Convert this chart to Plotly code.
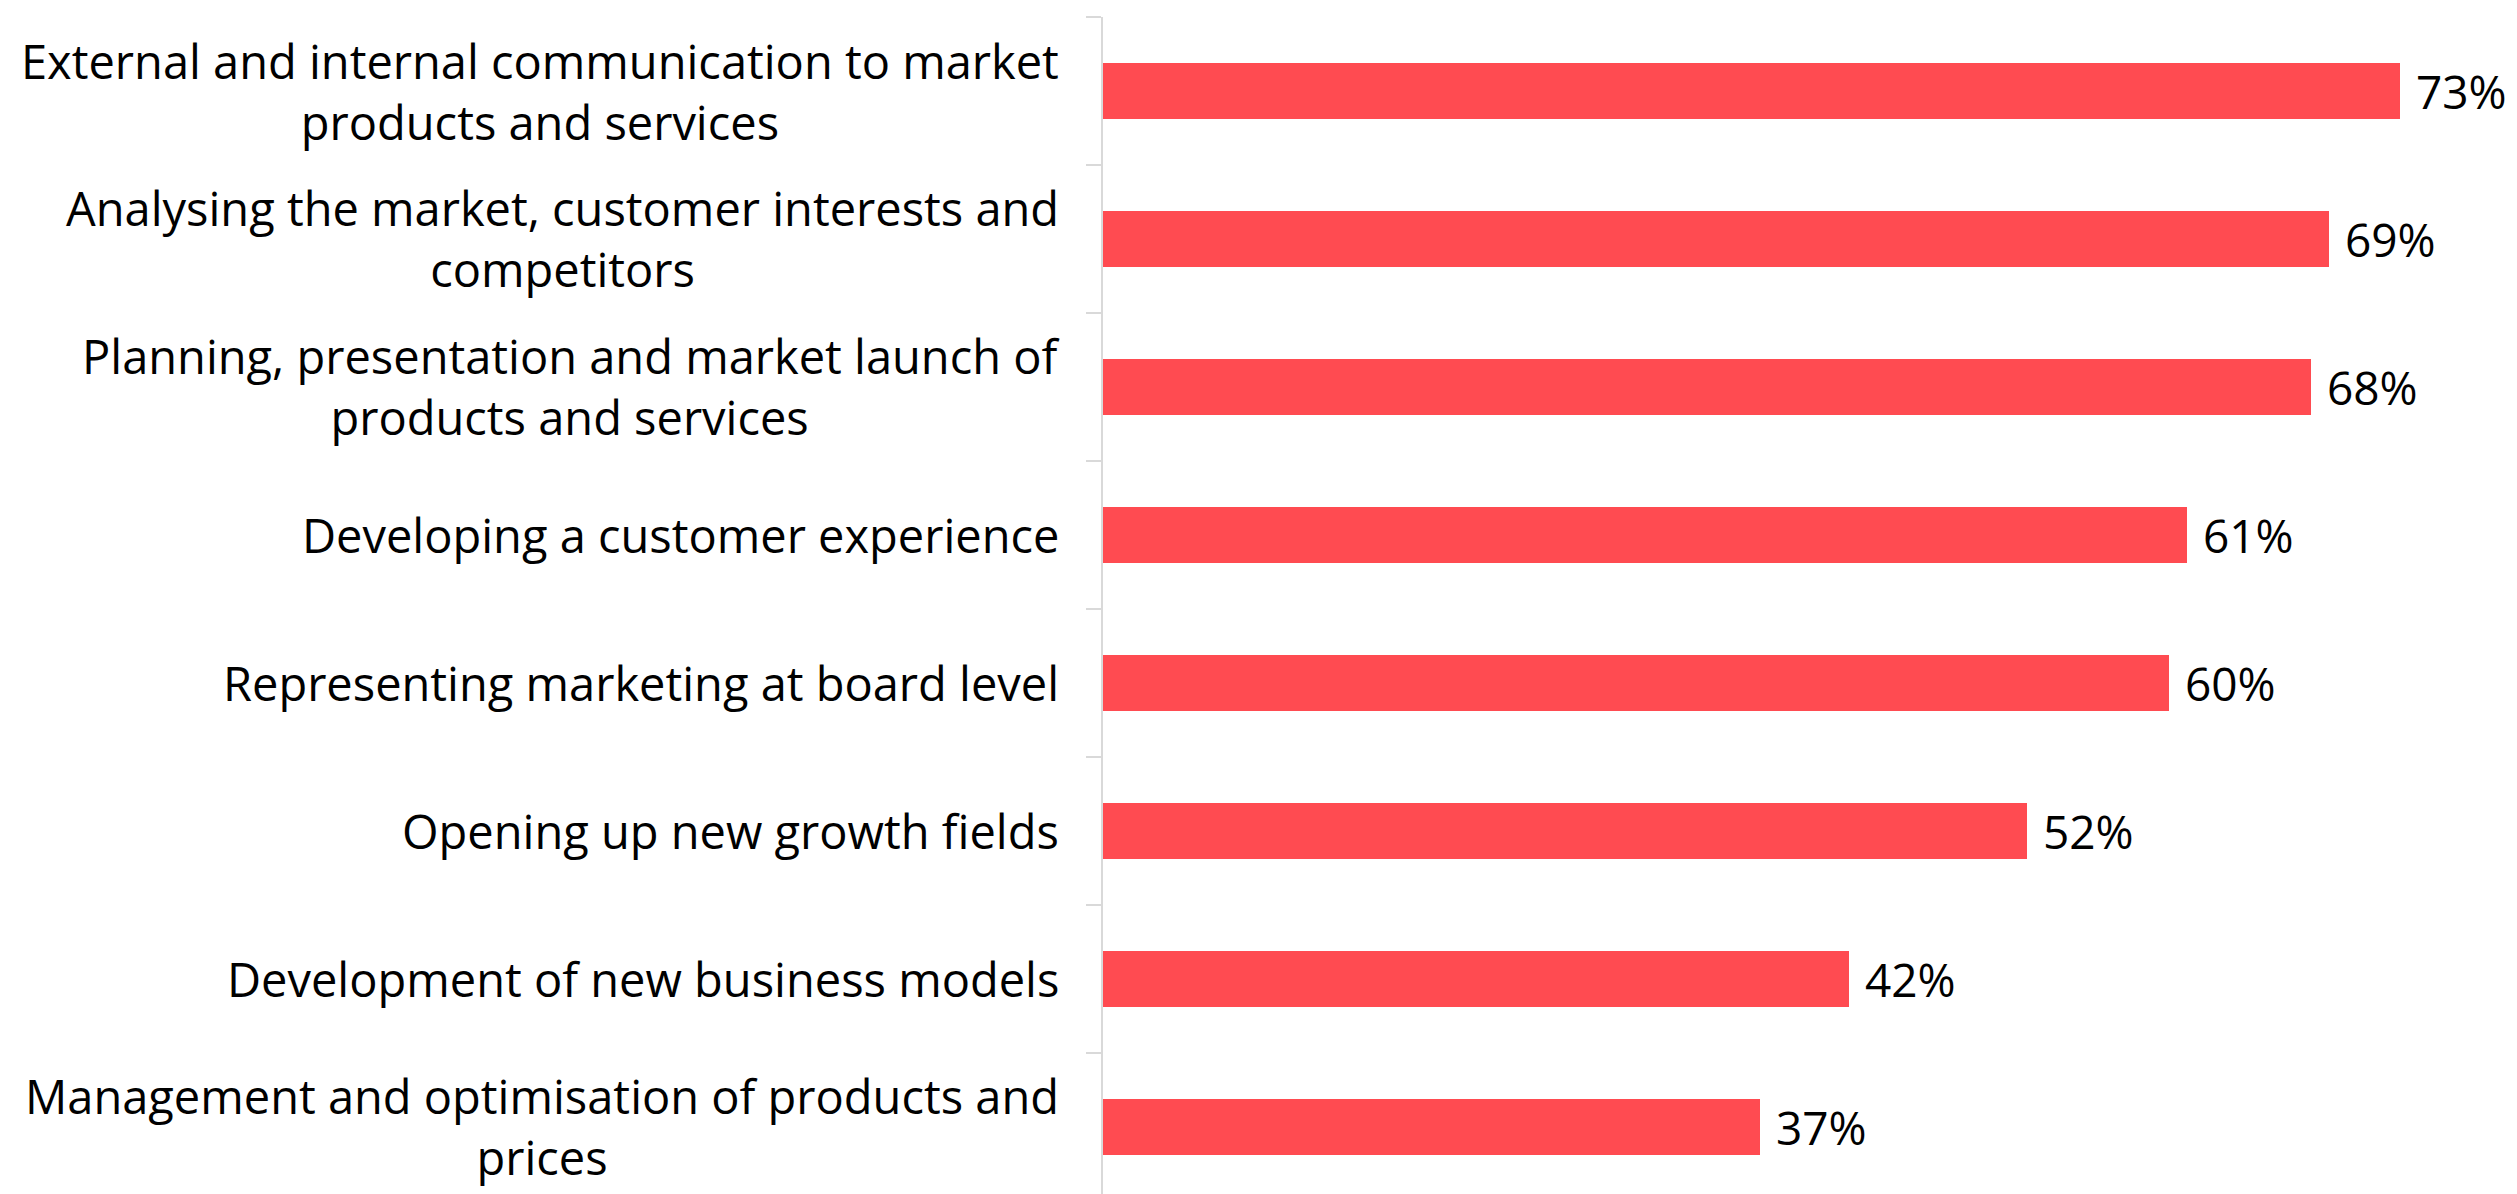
import plotly.graph_objects as go

# Survey responses: share of respondents per marketing responsibility
categories = [
    "External and internal communication to market<br>products and services",
    "Analysing the market, customer interests and<br>competitors",
    "Planning, presentation and market launch of<br>products and services",
    "Developing a customer experience",
    "Representing marketing at board level",
    "Opening up new growth fields",
    "Development of new business models",
    "Management and optimisation of products and<br>prices",
]
values = [73, 69, 68, 61, 60, 52, 42, 37]

BAR_COLOR = "#FF4B51"
AXIS_COLOR = "#D9D9D9"
FONT = "Open Sans"

fig = go.Figure()
fig.add_trace(go.Bar(
    x=values,
    y=list(range(len(categories))),
    orientation="h",
    marker=dict(color=BAR_COLOR, line=dict(width=0)),
    width=0.38,
    hoverinfo="skip",
))

annotations = []
# Category labels, centred line by line, right-aligned against the axis
for i, cat in enumerate(categories):
    annotations.append(dict(
        x=0, xref="paper", y=i, yref="y",
        text=cat, showarrow=False,
        xanchor="right", yanchor="middle", align="center",
        xshift=-42,
        font=dict(family=FONT, size=47, color="#000000"),
    ))
# Value labels just beyond each bar end
for i, v in enumerate(values):
    annotations.append(dict(
        x=v, xref="x", y=i, yref="y",
        text=f"{v}%", showarrow=False,
        xanchor="left", yanchor="middle",
        xshift=14,
        font=dict(family=FONT, size=46, color="#000000"),
    ))

fig.update_layout(
    width=2517, height=1194,
    margin=dict(l=1103, r=0, t=17, b=0, pad=0),
    paper_bgcolor="white", plot_bgcolor="white",
    showlegend=False,
    bargap=0,
    annotations=annotations,
    xaxis=dict(range=[0, 79.6], visible=False, fixedrange=True),
    yaxis=dict(
        type="linear",
        range=[7.453, -0.5],
        tickmode="array",
        tickvals=[k - 0.5 for k in range(len(categories) + 1)],
        showticklabels=False,
        ticks="outside", ticklen=15, tickwidth=2, tickcolor=AXIS_COLOR,
        showline=True, linecolor=AXIS_COLOR, linewidth=2,
        showgrid=False, zeroline=False, fixedrange=True,
    ),
)

fig.write_html("out.html")
